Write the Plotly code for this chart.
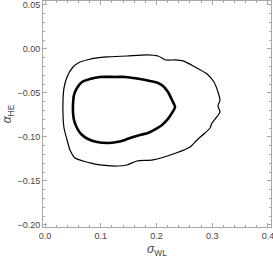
import plotly.graph_objects as go

# Outer (thin) contour: sigma_WL, alpha_HE
outer_x = [0.0323, 0.0341, 0.0395, 0.0502, 0.0628, 0.0753, 0.0933, 0.1112, 0.1471, 0.1830,
           0.2027, 0.2170, 0.2332, 0.2475, 0.2691, 0.2906, 0.3031, 0.3103, 0.3139, 0.3103,
           0.3139, 0.3067, 0.2996, 0.2960, 0.2870, 0.2726, 0.2601, 0.2350, 0.1937, 0.1650,
           0.1471, 0.1291, 0.0987, 0.0807, 0.0538, 0.0448, 0.0395, 0.0341, 0.0323, 0.0323]
outer_y = [-0.0580, -0.0443, -0.0318, -0.0205, -0.0148, -0.0125, -0.0102, -0.0091, -0.0080, -0.0068,
           -0.0080, -0.0125, -0.0125, -0.0136, -0.0205, -0.0284, -0.0375, -0.0489, -0.0580, -0.0648,
           -0.0716, -0.0784, -0.0841, -0.0898, -0.0955, -0.1034, -0.1114, -0.1182, -0.1261, -0.1273,
           -0.1318, -0.1330, -0.1318, -0.1295, -0.1239, -0.1148, -0.1034, -0.0898, -0.0750, -0.0580]

# Inner (thick) contour
inner_x = [0.0502, 0.0520, 0.0574, 0.0664, 0.0807, 0.0987, 0.1256, 0.1435, 0.1704, 0.1883,
           0.2027, 0.2117, 0.2206, 0.2278, 0.2332, 0.2278, 0.2206, 0.2099, 0.1991, 0.1848,
           0.1704, 0.1578, 0.1435, 0.1291, 0.1130, 0.0933, 0.0771, 0.0646, 0.0574, 0.0520,
           0.0502, 0.0502]
inner_y = [-0.0636, -0.0523, -0.0443, -0.0375, -0.0341, -0.0318, -0.0318, -0.0318, -0.0341, -0.0364,
           -0.0386, -0.0420, -0.0489, -0.0580, -0.0659, -0.0727, -0.0795, -0.0864, -0.0909, -0.0955,
           -0.0977, -0.1000, -0.1034, -0.1057, -0.1068, -0.1057, -0.1023, -0.0966, -0.0898, -0.0807,
           -0.0716, -0.0636]

x_ticks = [0.0, 0.1, 0.2, 0.3, 0.4]
x_ticklabels = ["0.0", "0.1", "0.2", "0.3", "0.4"]
y_ticks = [0.05, 0.0, -0.05, -0.10, -0.15, -0.20]
y_ticklabels = ["0.05", "0.00", "\u22120.05", "\u22120.10", "\u22120.15", "\u22120.20"]

fig = go.Figure()
fig.add_trace(go.Scatter(x=outer_x, y=outer_y, mode="lines",
                         line=dict(color="black", width=1.2, shape="spline", smoothing=0.6),
                         hoverinfo="skip"))
fig.add_trace(go.Scatter(x=inner_x, y=inner_y, mode="lines",
                         line=dict(color="black", width=2.6, shape="spline", smoothing=0.6),
                         hoverinfo="skip"))

fam = "Liberation Sans, Arial, sans-serif"
font = dict(family=fam, size=9, color="#444444")
axis_common = dict(showgrid=False, zeroline=False, showline=True, linecolor="#a8a8a8",
                   linewidth=1, mirror="ticks", ticks="inside", ticklen=4, tickwidth=1,
                   tickcolor="#a8a8a8", tickfont=font, automargin=False,
                   ticklabeloverflow="allow")

fig.update_xaxes(range=[-0.0036, 0.4054], tickvals=x_ticks, ticktext=x_ticklabels,
                 minor=dict(dtick=0.02, tick0=0, ticks="inside", ticklen=2, tickcolor="#a8a8a8"),
                 title=dict(text="<i>\u03c3</i><sub>WL</sub>",
                            font=dict(family=fam, size=12, color="#444444"),
                            standoff=5),
                 **axis_common)
fig.update_yaxes(range=[-0.2023, 0.0545], tickvals=y_ticks, ticktext=y_ticklabels,
                 minor=dict(dtick=0.01, tick0=0, ticks="inside", ticklen=2, tickcolor="#a8a8a8"),
                 title=dict(text="<i>\u03b1</i><sub>HE</sub>",
                            font=dict(family=fam, size=12, color="#444444"),
                            standoff=4),
                 **axis_common)

fig.update_layout(width=273, height=258, margin=dict(l=43, r=2, t=1, b=31, autoexpand=False),
                  paper_bgcolor="white", plot_bgcolor="white", showlegend=False)

fig.write_html("out.html", config={"displayModeBar": False},
               post_script="document.body.style.margin='0';document.body.style.overflow='hidden';")
